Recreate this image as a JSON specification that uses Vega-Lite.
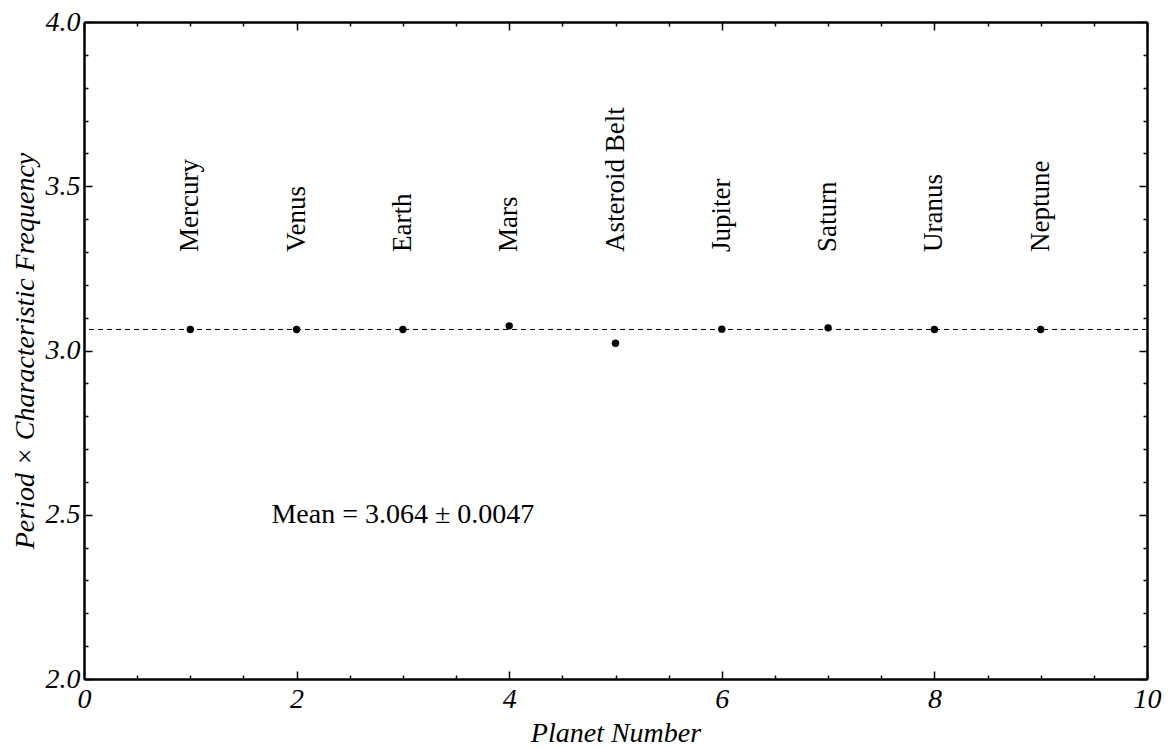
{
  "$schema": "https://vega.github.io/schema/vega-lite/v6.json",
  "width": 1063,
  "height": 657,
  "autosize": "none",
  "padding": {"left": 84, "top": 22, "right": 24, "bottom": 70},
  "background": "white",
  "config": {
    "view": {"stroke": null},
    "axis": {
      "domainColor": "black",
      "domainWidth": 2.5,
      "tickColor": "black",
      "tickWidth": 1.5,
      "labelColor": "black",
      "labelFont": "Liberation Serif",
      "labelFontStyle": "italic",
      "labelFontSize": 28,
      "titleFont": "Liberation Serif",
      "titleFontStyle": "italic",
      "titleFontWeight": "normal",
      "titleFontSize": 28,
      "titleColor": "black",
      "grid": false,
      "labelFlush": false,
      "labelOverlap": false
    }
  },
  "data": {
    "values": [
      {"n": 1, "planet": "Mercury", "value": 3.064},
      {"n": 2, "planet": "Venus", "value": 3.064},
      {"n": 3, "planet": "Earth", "value": 3.064},
      {"n": 4, "planet": "Mars", "value": 3.075},
      {"n": 5, "planet": "Asteroid Belt", "value": 3.022},
      {"n": 6, "planet": "Jupiter", "value": 3.065},
      {"n": 7, "planet": "Saturn", "value": 3.069},
      {"n": 8, "planet": "Uranus", "value": 3.064},
      {"n": 9, "planet": "Neptune", "value": 3.064}
    ]
  },
  "layer": [
    {
      "mark": {"type": "point", "filled": true, "color": "black", "opacity": 1, "size": 55},
      "encoding": {
        "x": {
          "field": "n", "type": "quantitative",
          "scale": {"domain": [0, 10], "nice": false, "zero": false},
          "axis": {
            "orient": "bottom",
            "title": "Planet Number",
            "values": [0,0.5,1,1.5,2,2.5,3,3.5,4,4.5,5,5.5,6,6.5,7,7.5,8,8.5,9,9.5,10],
            "labelExpr": "datum.value % 2 == 0 ? format(datum.value, 'd') : ''",
            "tickSize": {"condition": {"test": "datum.value % 2 == 0", "value": -8}, "value": -4},
            "labelPadding": 14,
            "titlePadding": 2
          }
        },
        "y": {
          "field": "value", "type": "quantitative",
          "scale": {"domain": [2, 4], "nice": false, "zero": false},
          "axis": {
            "orient": "left",
            "title": "Period × Characteristic Frequency",
            "values": [2,2.1,2.2,2.3,2.4,2.5,2.6,2.7,2.8,2.9,3,3.1,3.2,3.3,3.4,3.5,3.6,3.7,3.8,3.9,4],
            "labelExpr": "abs(datum.value*2 - round(datum.value*2)) < 0.001 ? format(datum.value, '.1f') : ''",
            "tickSize": {"condition": {"test": "abs(datum.value*2 - round(datum.value*2)) < 0.001", "value": -8}, "value": -4},
            "labelPadding": 12,
            "titlePadding": 6
          }
        }
      }
    },
    {
      "mark": {"type": "point", "opacity": 0},
      "encoding": {
        "x": {
          "field": "n", "type": "quantitative",
          "axis": {
            "orient": "top",
            "title": null,
            "labels": false,
            "values": [0,0.5,1,1.5,2,2.5,3,3.5,4,4.5,5,5.5,6,6.5,7,7.5,8,8.5,9,9.5,10],
            "tickSize": {"condition": {"test": "datum.value % 2 == 0", "value": -8}, "value": -4}
          }
        },
        "y": {
          "field": "value", "type": "quantitative",
          "axis": {
            "orient": "right",
            "title": null,
            "labels": false,
            "values": [2,2.1,2.2,2.3,2.4,2.5,2.6,2.7,2.8,2.9,3,3.1,3.2,3.3,3.4,3.5,3.6,3.7,3.8,3.9,4],
            "tickSize": {"condition": {"test": "abs(datum.value*2 - round(datum.value*2)) < 0.001", "value": -8}, "value": -4}
          }
        }
      }
    },
    {
      "data": {"values": [{"mean": 3.064}]},
      "mark": {"type": "rule", "color": "black", "strokeWidth": 1, "strokeDash": [5, 4]},
      "encoding": {
        "y": {"field": "mean", "type": "quantitative", "axis": null}
      }
    },
    {
      "mark": {"type": "text", "angle": 270, "align": "left", "baseline": "middle", "font": "Liberation Serif", "fontSize": 27, "color": "black"},
      "encoding": {
        "x": {"field": "n", "type": "quantitative", "axis": null},
        "y": {"datum": 3.3, "type": "quantitative", "axis": null},
        "text": {"field": "planet"}
      }
    },
    {
      "data": {"values": [{"label": "Mean = 3.064 ± 0.0047"}]},
      "mark": {"type": "text", "align": "center", "baseline": "middle", "font": "Liberation Serif", "fontSize": 28, "color": "black"},
      "encoding": {
        "x": {"datum": 3, "type": "quantitative", "axis": null},
        "y": {"datum": 2.5, "type": "quantitative", "axis": null},
        "text": {"field": "label"}
      }
    }
  ],
  "resolve": {"axis": {"x": "independent", "y": "independent"}}
}
